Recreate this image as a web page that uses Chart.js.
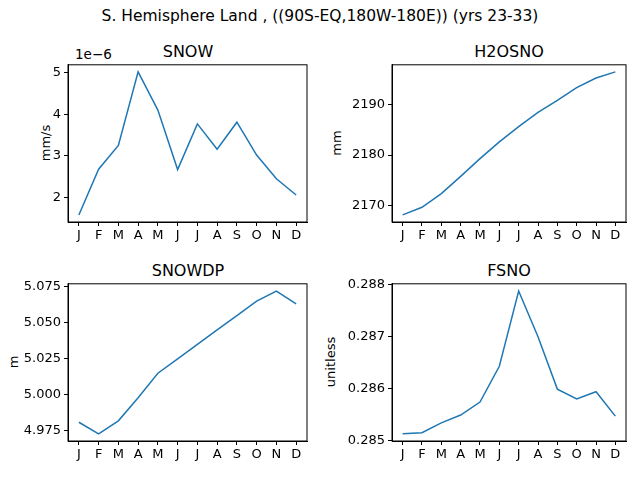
<!DOCTYPE html>
<html><head><meta charset="utf-8">
<script src="https://cdn.jsdelivr.net/npm/chart.js@4/dist/chart.umd.min.js"></script>
<style>
body{margin:0;width:640px;height:480px;background:#fff;position:relative;font-family:"DejaVu Sans",sans-serif;overflow:hidden}
.t{position:absolute;font-size:16px;color:#000;white-space:nowrap;transform:translateX(-50%)}
.yl{position:absolute;font-size:13px;color:#000;white-space:nowrap;transform:translate(-50%,-50%) rotate(-90deg)}
canvas{position:absolute}
</style></head><body>
<div class="t" style="left:320px;top:7px;font-size:15.5px">S. Hemisphere Land , ((90S-EQ,180W-180E)) (yrs 23-33)</div>
<div class="t" style="left:188px;top:42px">SNOW</div>
<div class="t" style="left:509px;top:42px">H2OSNO</div>
<div class="t" style="left:188px;top:261px">SNOWDP</div>
<div class="t" style="left:509px;top:261px">FSNO</div>
<div style="position:absolute;left:75px;top:46px;font-size:13.5px">1e−6</div>
<div class="yl" style="left:45px;top:143px">mm/s</div>
<div class="yl" style="left:336px;top:143px">mm</div>
<div class="yl" style="left:13px;top:362px">m</div>
<div class="yl" style="left:330px;top:362px">unitless</div>
<canvas id="c1" style="left:0;top:54px"></canvas>
<canvas id="c2" style="left:320px;top:54px"></canvas>
<canvas id="c3" style="left:0;top:273px"></canvas>
<canvas id="c4" style="left:320px;top:273px"></canvas>
<script>
const months=["J","F","M","A","M","J","J","A","S","O","N","D"];
const snow=[1.58,2.68,3.25,5.02,4.1,2.67,3.77,3.16,3.81,3.02,2.45,2.06];
const h2osno=[2168.2,2169.7,2172.4,2175.8,2179.3,2182.6,2185.6,2188.4,2190.8,2193.3,2195.2,2196.4];
const snowdp=[4.981,4.973,4.982,4.998,5.015,5.025,5.035,5.045,5.055,5.065,5.072,5.063];
const fsno=[0.28513,0.28515,0.28534,0.28549,0.28574,0.28643,0.28788,0.28700,0.28599,0.28580,0.28594,0.28547];
const snowTicks=[2,3,4,5], h2Ticks=[2170,2180,2190], dpTicks=[4.975,5.0,5.025,5.05,5.075], fsTicks=[0.285,0.286,0.287,0.288];
Chart.defaults.font.family="DejaVu Sans";Chart.defaults.font.size=13;Chart.defaults.color="#000";
const box={id:'box',afterDraw(c){const a=c.chartArea,x=c.ctx;x.save();x.strokeStyle='#000';x.lineWidth=1;x.strokeRect(a.left,a.top,a.right-a.left,a.bottom-a.top);x.restore();}};
function mk(id,data,min,max,ticks,dec,leftW,rightPad){
 const cv=document.getElementById(id);cv.width=320;cv.height=198;
 new Chart(cv,{type:'line',data:{datasets:[{data:data.map((v,i)=>({x:i,y:v})),borderColor:'#1f77b4',borderWidth:1.5,pointRadius:0,tension:0}]},
 options:{responsive:false,animation:false,layout:{padding:{top:10,right:rightPad,left:0,bottom:0}},
 plugins:{legend:{display:false},tooltip:{enabled:false}},
 scales:{x:{type:'linear',min:-0.55,max:11.55,afterBuildTicks(a){a.ticks=months.map((m,i)=>({value:i}));},
   ticks:{callback:(v)=>months[v],maxRotation:0,autoSkip:false,padding:2},grid:{display:true,drawOnChartArea:false,tickLength:4,color:'#000'},border:{color:'#000'},afterFit(a){a.height=30;}},
  y:{min,max,afterBuildTicks(a){a.ticks=ticks.map(v=>({value:v}));},ticks:{callback:v=>v.toFixed(dec),padding:3},
   grid:{display:true,drawOnChartArea:false,tickLength:4,color:'#000'},border:{color:'#000'},afterFit(a){a.width=leftW;}}}},plugins:[box]});
}
mk('c1',snow,1.41,5.19,snowTicks,0,68,13);
mk('c2',h2osno,2166.8,2197.8,h2Ticks,0,72,14);
mk('c3',snowdp,4.968,5.077,dpTicks,3,68,13);
mk('c4',fsno,0.28499,0.28802,fsTicks,3,72,14);
</script></body></html>
